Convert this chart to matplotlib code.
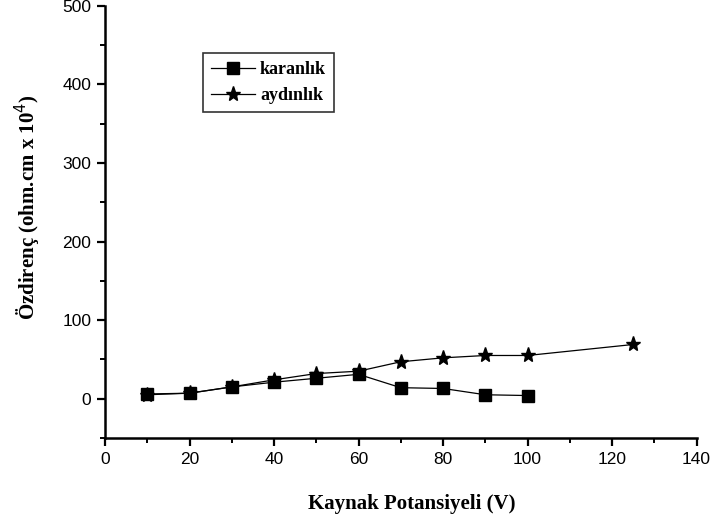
import matplotlib
matplotlib.use("Agg")
import matplotlib.pyplot as plt
from matplotlib.ticker import MultipleLocator

# Kaynak potansiyeli (V)
x_karanlik = [10, 20, 30, 40, 50, 60, 70, 80, 90, 100]
y_karanlik = [6, 7, 15, 21, 26, 31, 14, 13, 5, 4]

x_aydinlik = [10, 20, 30, 40, 50, 60, 70, 80, 90, 100, 125]
y_aydinlik = [5, 7, 15, 24, 32, 35, 47, 52, 55, 55, 69]

x_ticks = [0, 20, 40, 60, 80, 100, 120, 140]
y_ticks = [0, 100, 200, 300, 400, 500]

fig = plt.figure(figsize=(7.11, 5.22), dpi=100)
ax = fig.add_axes([0.1477, 0.161, 0.832, 0.8276])

ax.plot(x_karanlik, y_karanlik, color="black", lw=0.9, marker="s", ms=8.5,
        mfc="black", mec="black", label="karanlık")
ax.plot(x_aydinlik, y_aydinlik, color="black", lw=0.9, marker="*", ms=11,
        mfc="black", mec="black", label="aydınlık")

ax.set_xlim(0, 140)
ax.set_ylim(-50, 500)
ax.set_xticks(x_ticks)
ax.set_yticks(y_ticks)
ax.xaxis.set_minor_locator(MultipleLocator(10))
ax.yaxis.set_minor_locator(MultipleLocator(50))

for side in ("top", "right"):
    ax.spines[side].set_visible(False)
for side in ("left", "bottom"):
    ax.spines[side].set_linewidth(1.8)

ax.tick_params(which="major", direction="out", length=6, width=1.6,
               labelsize=12.5, pad=4)
ax.tick_params(which="minor", direction="out", length=3.5, width=1.4)
for lbl in ax.get_xticklabels() + ax.get_yticklabels():
    lbl.set_fontfamily("Liberation Sans")

serif_bold = dict(family="Liberation Serif", weight="bold", size=15)
ax.set_xlabel("Kaynak Potansiyeli (V)", **serif_bold)
ax.xaxis.set_label_coords(0.519, -0.13)
ax.set_ylabel("Özdirenç (ohm.cm x 10$^{4}$)", **serif_bold)
ax.yaxis.set_label_coords(-0.105, 0.535)

leg = ax.legend(loc="upper left", bbox_to_anchor=(0.166, 0.891),
                frameon=True, fancybox=False, edgecolor="black",
                prop=dict(family="Liberation Serif", weight="bold", size=13),
                handlelength=2.4, handletextpad=0.3, borderpad=0.45,
                labelspacing=0.5, borderaxespad=0)
leg.get_frame().set_linewidth(1.2)

fig.savefig("out.png", dpi=100)
